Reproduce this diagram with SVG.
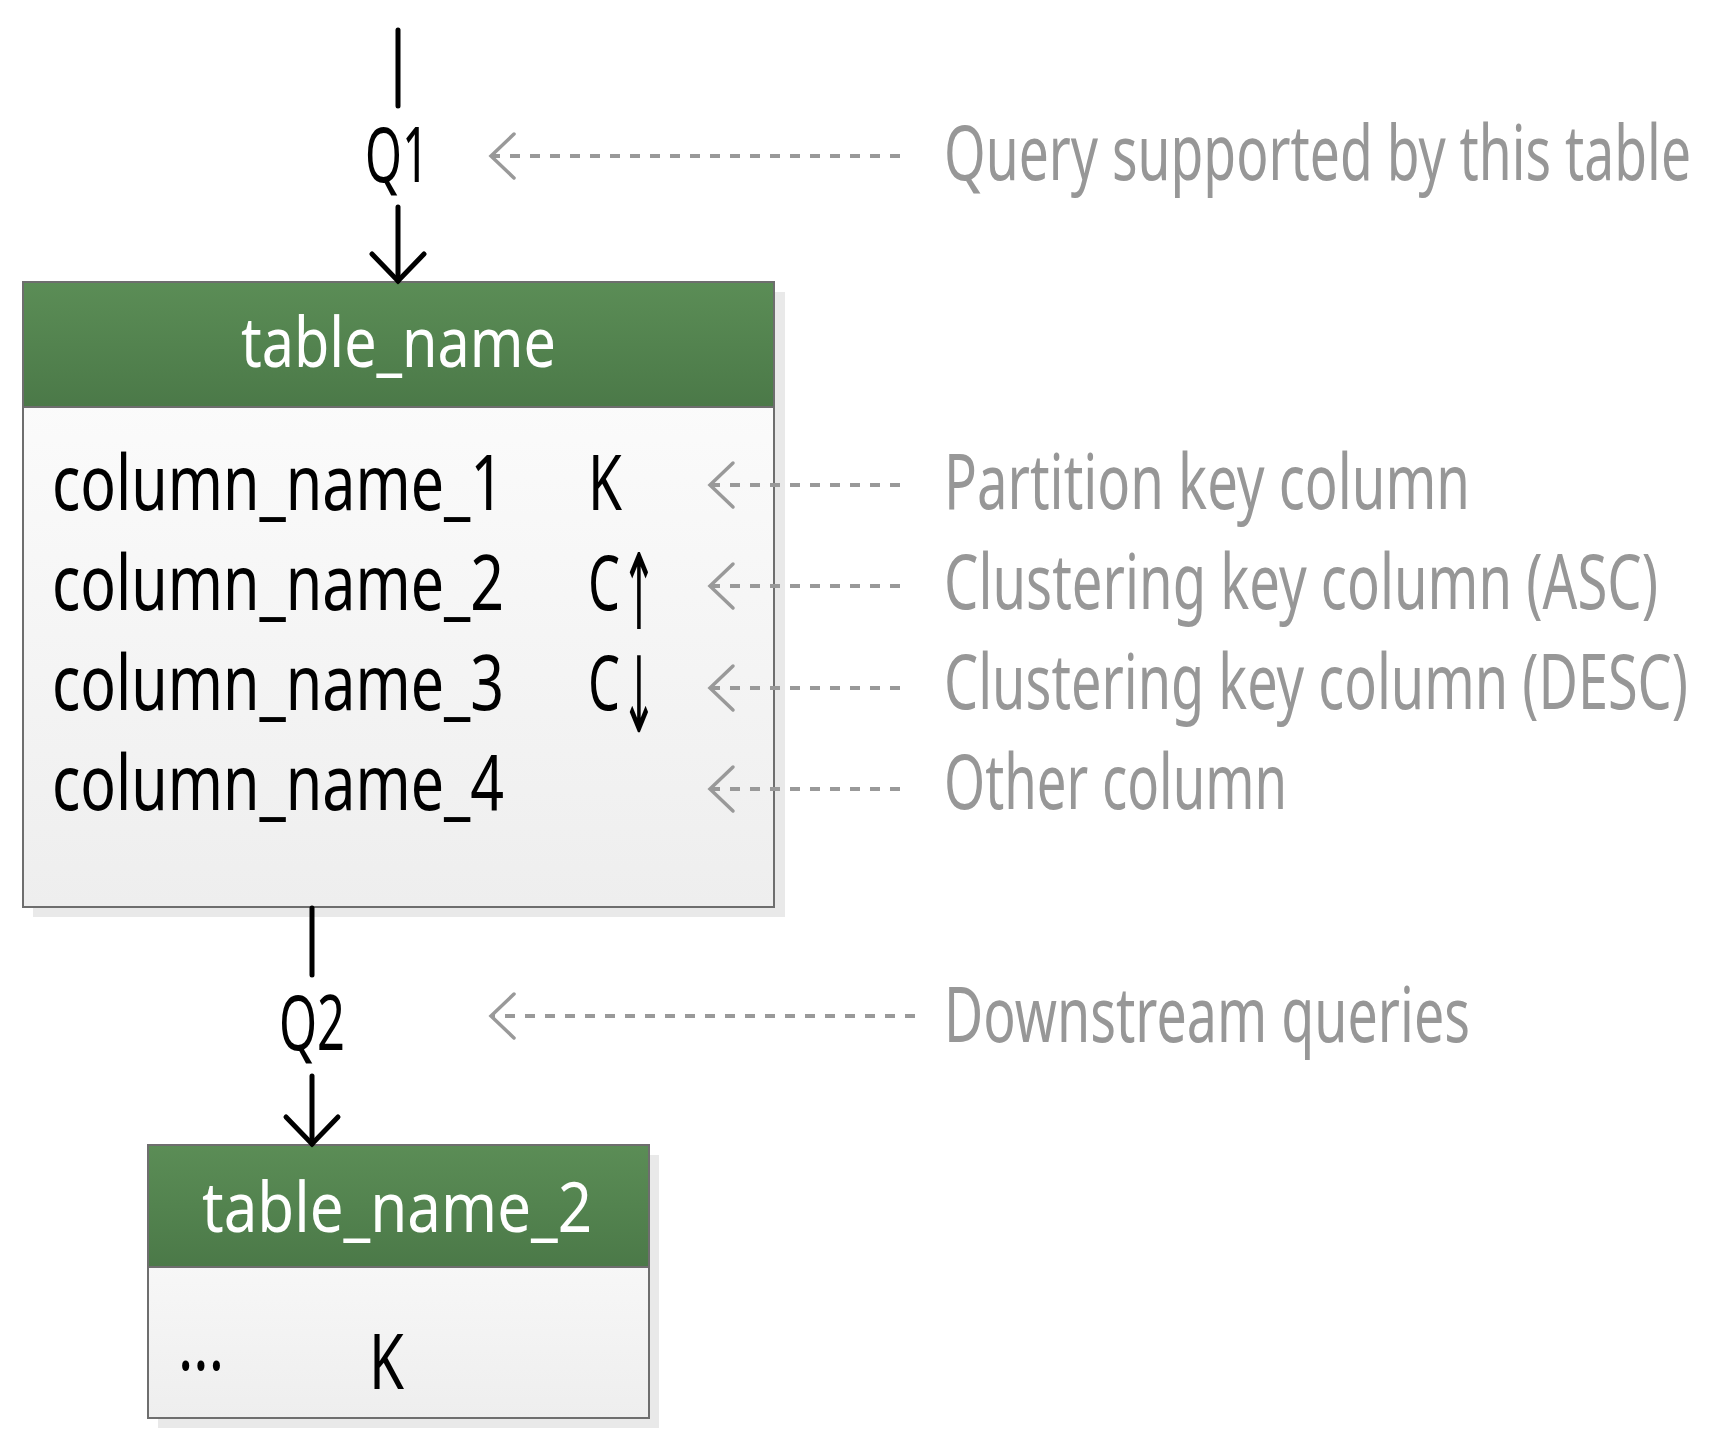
<svg xmlns="http://www.w3.org/2000/svg" width="1732" height="1434" viewBox="0 0 1732 1434">
<style>
.t{font-family:"Noto Sans","Liberation Sans",sans-serif;font-size:76px;fill:#000}
.h{font-family:"Noto Sans","Liberation Sans",sans-serif;font-size:70px;fill:#fff}
.g{font-family:"Noto Sans","Liberation Sans",sans-serif;font-size:76px;fill:#979797}
.ar{font-family:"DejaVu Sans",sans-serif;font-size:105px;fill:#000}
.border{fill:none;stroke:#6e6e6e;stroke-width:2}
.shadow{fill:#e9e9e9}
.conn{stroke:#000;stroke-width:5;stroke-linecap:round;fill:none}
.dash{stroke:#999;stroke-width:4;stroke-dasharray:10 10;fill:none}
</style>
<defs>
<linearGradient id="hdr" x1="0" y1="0" x2="0" y2="1">
<stop offset="0" stop-color="#5b8d56"/><stop offset="1" stop-color="#4b7948"/>
</linearGradient>
<linearGradient id="body" x1="0" y1="0" x2="0" y2="1">
<stop offset="0" stop-color="#fefefe"/><stop offset="1" stop-color="#eeeeee"/>
</linearGradient>
<marker id="blk" markerUnits="userSpaceOnUse" orient="auto" refX="0" refY="0" markerWidth="1" markerHeight="1" overflow="visible">
<path d="M-27,-26 L0,0 L-27,26" fill="none" stroke="#000" stroke-width="5" stroke-linecap="round" stroke-linejoin="miter"/>
</marker>
<marker id="gry" markerUnits="userSpaceOnUse" orient="auto" refX="0" refY="0" markerWidth="1" markerHeight="1" overflow="visible">
<path d="M-23,-22 L0,0 L-23,22" fill="none" stroke="#999" stroke-width="3.5" stroke-linecap="round"/>
</marker>
</defs>
<rect width="1732" height="1434" fill="#fff"/>

<g id="table_name">
<rect class="shadow" x="33" y="292" width="752" height="625"/>
<rect x="23" y="282" width="751" height="625" fill="url(#body)"/>
<rect x="23" y="282" width="751" height="125" fill="url(#hdr)"/>
<line x1="23" y1="407" x2="774" y2="407" stroke="#6e6e6e" stroke-width="2"/>
<rect class="border" x="23" y="282" width="751" height="625"/>
<text class="h" x="241" y="367" textLength="315" lengthAdjust="spacingAndGlyphs">table_name</text>
<text class="t" x="52" y="510" textLength="452" lengthAdjust="spacingAndGlyphs">column_name_1</text>
<text class="t" x="52" y="610" textLength="452" lengthAdjust="spacingAndGlyphs">column_name_2</text>
<text class="t" x="52" y="710" textLength="452" lengthAdjust="spacingAndGlyphs">column_name_3</text>
<text class="t" x="52" y="810" textLength="452" lengthAdjust="spacingAndGlyphs">column_name_4</text>
<text class="t" x="588" y="510" textLength="34" lengthAdjust="spacingAndGlyphs">K</text>
<text class="t" x="588" y="610" textLength="32" lengthAdjust="spacingAndGlyphs">C</text>
<text class="ar" x="621" y="629" textLength="36" lengthAdjust="spacingAndGlyphs">↑</text>
<text class="t" x="588" y="710" textLength="32" lengthAdjust="spacingAndGlyphs">C</text>
<text class="ar" x="621" y="732" textLength="36" lengthAdjust="spacingAndGlyphs">↓</text>
</g>

<g id="table_name_2">
<rect class="shadow" x="158" y="1155" width="501" height="273"/>
<rect x="148" y="1145" width="501" height="273" fill="url(#body)"/>
<rect x="148" y="1145" width="501" height="122" fill="url(#hdr)"/>
<line x1="148" y1="1267" x2="649" y2="1267" stroke="#6e6e6e" stroke-width="2"/>
<rect class="border" x="148" y="1145" width="501" height="273"/>
<text class="h" x="202" y="1232" textLength="390" lengthAdjust="spacingAndGlyphs">table_name_2</text>
<text class="t" x="178" y="1370" textLength="46" lengthAdjust="spacingAndGlyphs">...</text>
<text class="t" x="369" y="1389" textLength="35" lengthAdjust="spacingAndGlyphs">K</text>
</g>

<g id="connectors">
<line class="conn" x1="398" y1="30" x2="398" y2="106"/>
<line class="conn" x1="398" y1="207" x2="398" y2="281" marker-end="url(#blk)"/>
<line class="conn" x1="312" y1="908" x2="312" y2="975"/>
<line class="conn" x1="312" y1="1076" x2="312" y2="1144" marker-end="url(#blk)"/>
<line class="dash" x1="900" y1="156" x2="491" y2="156" marker-end="url(#gry)"/>
<line class="dash" x1="900" y1="485" x2="710" y2="485" marker-end="url(#gry)"/>
<line class="dash" x1="900" y1="586" x2="710" y2="586" marker-end="url(#gry)"/>
<line class="dash" x1="900" y1="688" x2="710" y2="688" marker-end="url(#gry)"/>
<line class="dash" x1="900" y1="789" x2="710" y2="789" marker-end="url(#gry)"/>
<line class="dash" x1="915" y1="1016" x2="491" y2="1016" marker-end="url(#gry)"/>
<text class="t" x="365" y="182" textLength="64" lengthAdjust="spacingAndGlyphs">Q1</text>
<text class="t" x="279" y="1050" textLength="66" lengthAdjust="spacingAndGlyphs">Q2</text>
</g>

<g id="label_query">
<text class="g" x="944" y="180" textLength="747" lengthAdjust="spacingAndGlyphs">Query supported by this table</text>
</g>
<g id="label_partition">
<text class="g" x="944" y="509" textLength="526" lengthAdjust="spacingAndGlyphs">Partition key column</text>
</g>
<g id="label_asc">
<text class="g" x="944" y="609" textLength="714" lengthAdjust="spacingAndGlyphs">Clustering key column (ASC)</text>
</g>
<g id="label_desc">
<text class="g" x="944" y="709" textLength="744" lengthAdjust="spacingAndGlyphs">Clustering key column (DESC)</text>
</g>
<g id="label_other">
<text class="g" x="944" y="809" textLength="343" lengthAdjust="spacingAndGlyphs">Other column</text>
</g>
<g id="label_downstream">
<text class="g" x="944" y="1042" textLength="526" lengthAdjust="spacingAndGlyphs">Downstream queries</text>
</g>
</svg>
